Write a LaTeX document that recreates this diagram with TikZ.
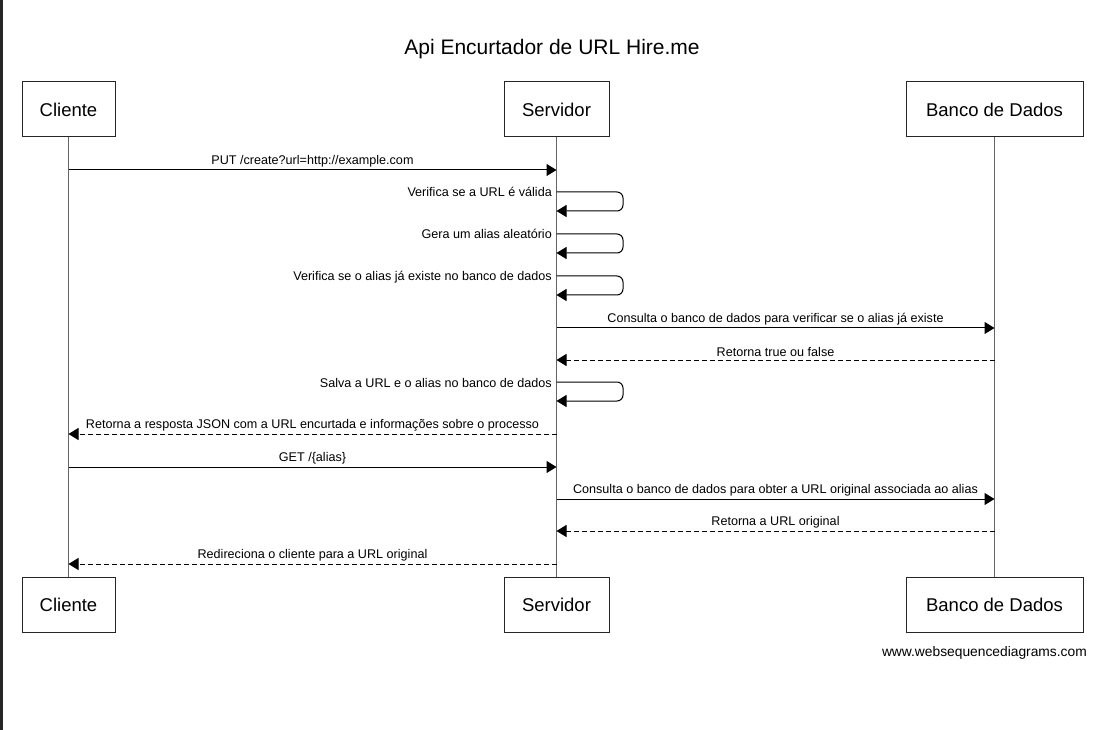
\documentclass[tikz,border=0pt]{standalone}
\usepackage{fontspec}
\setmainfont{Liberation Sans}
\usetikzlibrary{arrows.meta}
\begin{document}
\begin{tikzpicture}[x=1pt,y=-1pt,
 actor/.style={draw=black!85,line width=1pt,fill=white,minimum height=55pt,inner sep=0pt,font=\fontsize{18.5}{20}\selectfont},
 life/.style={draw=black!60,line width=1.3pt},
 msg/.style={draw=black,line width=1pt,-{Triangle[length=10pt,width=12pt]}},
 ret/.style={msg,dash pattern=on 5pt off 3pt},
 lbl/.style={font=\fontsize{12.6}{14}\selectfont,inner sep=0pt},
 selfmsg/.style={msg,rounded corners=6pt}]
\useasboundingbox (0,0) rectangle (1096,730);
\fill[white] (0,0) rectangle (1096,730);
\fill[black!85] (0,0) rectangle (3,730);

\node[font=\fontsize{21}{24}\selectfont,inner sep=0pt,anchor=base] (title) at (552,55) {Api Encurtador de URL Hire.me};

\node[actor,minimum width=93pt]  (cliT) at (68.5,109.5) {Cliente};
\node[actor,minimum width=105pt] (srvT) at (556.5,109.5) {Servidor};
\node[actor,minimum width=177pt] (dbT)  at (994.5,109.5) {Banco de Dados};
\node[actor,minimum width=93pt]  (cliB) at (68.5,605) {Cliente};
\node[actor,minimum width=105pt] (srvB) at (556.5,605) {Servidor};
\node[actor,minimum width=177pt] (dbB)  at (994.5,605) {Banco de Dados};

\draw[life] (cliT) -- (cliB);
\draw[life] (srvT) -- (srvB);
\draw[life] (dbT) -- (dbB);

\foreach \n/\y in {1/170,2/192,3/211,4/234,5/253,6/276,7/295,8/328,9/360,10/382,11/401,12/434,13/467,14/499,15/531,16/564}{
  \coordinate (c\n) at (68.5,\y);
  \coordinate (s\n) at (556.5,\y);
  \coordinate (d\n) at (994.5,\y);
  \coordinate (l\n) at (623,\y);
}

% PUT
\draw[msg] (c1) -- node[lbl,above=2.5pt,midway] {PUT /create?url=http://example.com} (s1);
% self messages
\draw[selfmsg] (s2) -- (l2) -- (l3) -- (s3);
\node[lbl,anchor=base east] (t2) at ([xshift=-4.5pt,yshift=-5pt]s2) {Verifica se a URL é válida};
\draw[selfmsg] (s4) -- (l4) -- (l5) -- (s5);
\node[lbl,anchor=base east] (t4) at ([xshift=-4.5pt,yshift=-5pt]s4) {Gera um alias aleatório};
\draw[selfmsg] (s6) -- (l6) -- (l7) -- (s7);
\node[lbl,anchor=base east] (t6) at ([xshift=-4.5pt,yshift=-5pt]s6) {Verifica se o alias já existe no banco de dados};
% DB query
\draw[msg] (s8) -- node[lbl,above=2.5pt,midway] {Consulta o banco de dados para verificar se o alias já existe} (d8);
\draw[ret] (d9) -- node[lbl,above=2.5pt,midway] {Retorna true ou false} (s9);
% save
\draw[selfmsg] (s10) -- (l10) -- (l11) -- (s11);
\node[lbl,anchor=base east] (t10) at ([xshift=-4.5pt,yshift=-5pt]s10) {Salva a URL e o alias no banco de dados};
% response
\draw[ret] (s12) -- node[lbl,above=2.5pt,midway] {Retorna a resposta JSON com a URL encurtada e informações sobre o processo} (c12);
% GET
\draw[msg] (c13) -- node[lbl,above=2.5pt,midway] {GET /\{alias\}} (s13);
\draw[msg] (s14) -- node[lbl,above=2.5pt,midway] {Consulta o banco de dados para obter a URL original associada ao alias} (d14);
\draw[ret] (d15) -- node[lbl,above=2.5pt,midway] {Retorna a URL original} (s15);
\draw[ret] (s16) -- node[lbl,above=2.5pt,midway] {Redireciona o cliente para a URL original} (c16);

\node[font=\fontsize{13.8}{16}\selectfont,inner sep=0pt,anchor=base east] (wm) at (1087,656) {www.websequencediagrams.com};
\end{tikzpicture}
\end{document}
